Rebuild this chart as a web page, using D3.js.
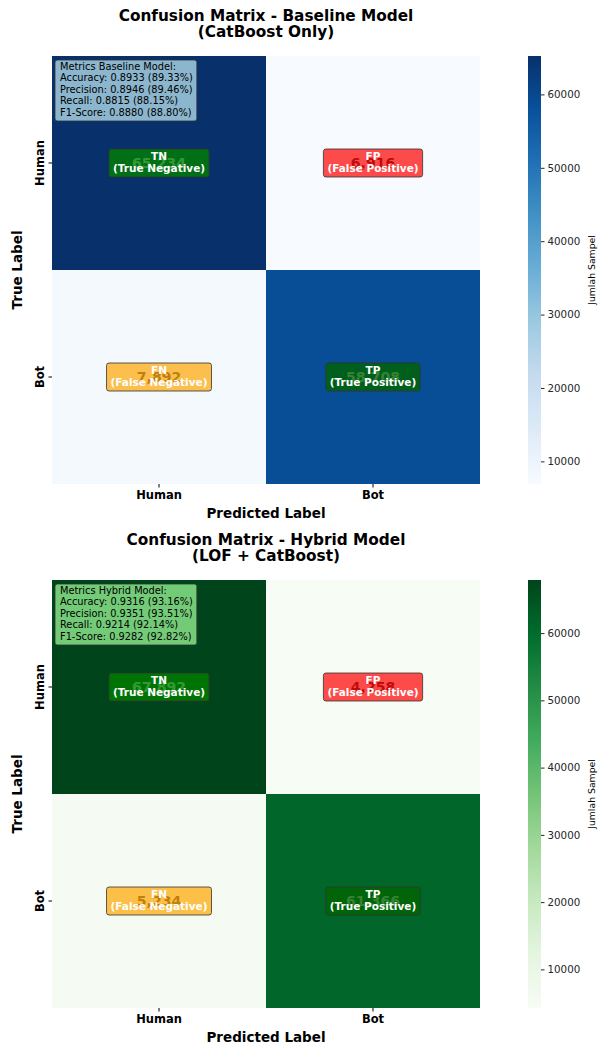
<!DOCTYPE html>
<html>
<head>
<meta charset="utf-8">
<script src="https://cdn.jsdelivr.net/npm/d3@7"></script>
<style>
  html, body { margin: 0; padding: 0; background: #ffffff; }
  svg { display: block; font-family: "DejaVu Sans", sans-serif; }
</style>
</head>
<body>
<svg id="chart" width="601" height="1047"></svg>
<script>
// ---------------- data ----------------
const categories = ["Human", "Bot"];
const baselineValues = [[65234, 6916], [7892, 58708]];
const hybridValues = [[67892, 4258], [5234, 61366]];
const cellCodes = [["TN", "FP"], ["FN", "TP"]];
const cellNames = [["(True Negative)", "(False Positive)"], ["(False Negative)", "(True Positive)"]];
const colorbarTicks = [10000, 20000, 30000, 40000, 50000, 60000];
const baselineMetrics = ["Metrics Baseline Model:", "Accuracy: 0.8933 (89.33%)", "Precision: 0.8946 (89.46%)", "Recall: 0.8815 (88.15%)", "F1-Score: 0.8880 (88.80%)"];
const hybridMetrics = ["Metrics Hybrid Model:", "Accuracy: 0.9316 (93.16%)", "Precision: 0.9351 (93.51%)", "Recall: 0.9214 (92.14%)", "F1-Score: 0.9282 (92.82%)"];
const baselineTitle = ["Confusion Matrix - Baseline Model", "(CatBoost Only)"];
const hybridTitle = ["Confusion Matrix - Hybrid Model", "(LOF + CatBoost)"];
const bluesColors = ["#f7fbff","#deebf7","#c6dbef","#9ecae1","#6baed6","#4292c6","#2171b5","#08519c","#08306b"];
const greensColors = ["#f7fcf5","#e5f5e0","#c7e9c0","#a1d99b","#74c476","#41ab5d","#238b45","#006d2c","#00441b"];

// ---------------- styles ----------------
const boxFill = [["green", "red"], ["orange", "darkgreen"]];
const boxAlpha = [[0.8, 0.7], [0.7, 0.8]];

const svg = d3.select("#chart");
const defs = svg.append("defs");

function drawPanel(opts) {
  const { top, values, title, metrics, colors, metricsFill, id } = opts;
  const left = 52, right = 480, y0 = top + 56, y1 = top + 484;
  const flat = values.flat();
  const vmin = d3.min(flat), vmax = d3.max(flat);
  const color = d3.scaleLinear()
    .domain(d3.range(colors.length).map(i => vmin + (vmax - vmin) * i / (colors.length - 1)))
    .range(colors).interpolate(d3.interpolateRgb);

  const x = d3.scaleBand().domain(categories).range([left, right]);
  const y = d3.scaleBand().domain(categories).range([y0, y1]);
  const g = svg.append("g");

  // title
  const cx = (left + right) / 2;
  title.forEach((t, i) => {
    g.append("text").attr("x", cx).attr("y", top + 21 + i * 16)
      .attr("text-anchor", "middle").attr("font-weight", "bold").attr("font-size", 15.3)
      .attr("fill", "#000").text(t);
  });

  // cells
  const cells = [];
  categories.forEach((r, i) => categories.forEach((c, j) => cells.push({ r, c, i, j, v: values[i][j] })));
  g.selectAll("rect.cell").data(cells).enter().append("rect")
    .attr("x", d => x(d.c)).attr("y", d => y(d.r))
    .attr("width", x.bandwidth()).attr("height", y.bandwidth())
    .attr("fill", d => color(d.v));

  // annotation numbers
  const mid = (vmin + vmax) / 2;
  g.selectAll("text.num").data(cells).enter().append("text")
    .attr("x", d => x(d.c) + x.bandwidth() / 2)
    .attr("y", d => y(d.r) + y.bandwidth() / 2 + 5)
    .attr("text-anchor", "middle").attr("font-weight", "bold").attr("font-size", 14)
    .attr("fill", d => d.v > mid ? "#ffffff" : "#262626")
    .text(d => d3.format(",")(d.v));

  // label boxes
  cells.forEach(d => {
    const bx = x(d.c) + x.bandwidth() / 2, by = y(d.r) + y.bandwidth() / 2;
    const bg = g.append("g");
    const rect = bg.append("rect");
    const t1 = bg.append("text").attr("x", bx).attr("y", by - 3)
      .attr("text-anchor", "middle").attr("font-weight", "bold").attr("font-size", 10.5)
      .attr("fill", "#fff").text(cellCodes[d.i][d.j]);
    const t2 = bg.append("text").attr("x", bx).attr("y", by + 9)
      .attr("text-anchor", "middle").attr("font-weight", "bold").attr("font-size", 10.5)
      .attr("fill", "#fff").text(cellNames[d.i][d.j]);
    const w = t2.node().getBBox().width + 8;
    rect.attr("x", bx - w / 2).attr("y", by - 14).attr("width", w).attr("height", 28)
      .attr("rx", 2.5).attr("fill", boxFill[d.i][d.j]).attr("fill-opacity", boxAlpha[d.i][d.j])
      .attr("stroke", "#333").attr("stroke-opacity", 0.8).attr("stroke-width", 1);
  });

  // metrics box
  const mg = g.append("g");
  const mrect = mg.append("rect");
  const mt = metrics.map((m, k) => mg.append("text").attr("x", 60).attr("y", y0 + 13.5 + k * 11.6)
    .attr("font-size", 9.8).attr("fill", "#000").text(m));
  let mw = d3.max(mt, t => t.node().getBBox().width);
  mrect.attr("x", 55).attr("y", y0 + 4).attr("width", mw + 9).attr("height", 61)
    .attr("rx", 2.5).attr("fill", metricsFill).attr("fill-opacity", 0.8)
    .attr("stroke", "#333").attr("stroke-opacity", 0.8);

  // axes
  const xAxis = d3.axisBottom(x).tickSize(3.5).tickPadding(3);
  const xg = g.append("g").attr("transform", `translate(0,${y1})`).call(xAxis);
  xg.select(".domain").remove();
  xg.selectAll("text").attr("font-size", 11.5).attr("font-weight", "bold").attr("fill", "#000")
    .attr("font-family", "DejaVu Sans, sans-serif");
  const yAxis = d3.axisLeft(y).tickSize(3.5).tickPadding(3);
  const yg = g.append("g").attr("transform", `translate(${left},0)`).call(yAxis);
  yg.select(".domain").remove();
  yg.selectAll("text").attr("font-size", 11.5).attr("font-weight", "bold").attr("fill", "#000")
    .attr("font-family", "DejaVu Sans, sans-serif")
    .attr("text-anchor", "middle")
    .each(function () {
      d3.select(this).attr("x", null).attr("dy", "0.35em").attr("y", 0)
        .attr("transform", `translate(-12,0) rotate(-90)`);
    });

  g.append("text").attr("x", cx).attr("y", y1 + 34).attr("text-anchor", "middle")
    .attr("font-weight", "bold").attr("font-size", 13.5).attr("fill", "#000").text("Predicted Label");
  g.append("text").attr("transform", `translate(22,${(y0 + y1) / 2}) rotate(-90)`)
    .attr("text-anchor", "middle").attr("font-weight", "bold").attr("font-size", 13.5)
    .attr("fill", "#000").text("True Label");

  // colorbar
  const cbx = 528, cbw = 13;
  const grad = defs.append("linearGradient").attr("id", id).attr("x1", 0).attr("y1", 1).attr("x2", 0).attr("y2", 0);
  colors.forEach((c, k) => grad.append("stop").attr("offset", k / (colors.length - 1)).attr("stop-color", c));
  g.append("rect").attr("x", cbx).attr("y", y0).attr("width", cbw).attr("height", y1 - y0)
    .attr("fill", `url(#${id})`);
  const cs = d3.scaleLinear().domain([vmin, vmax]).range([y1, y0]);
  const cAxis = d3.axisRight(cs).tickValues(colorbarTicks).tickFormat(d3.format("d")).tickSize(3.5).tickPadding(3);
  const cg = g.append("g").attr("transform", `translate(${cbx + cbw},0)`).call(cAxis);
  cg.select(".domain").remove();
  cg.selectAll("text").attr("font-size", 10.3).attr("fill", "#262626").attr("font-family", "DejaVu Sans, sans-serif");
  cg.selectAll("line").attr("stroke", "#262626");
  g.append("text").attr("transform", `translate(595,${(y0 + y1) / 2}) rotate(-90)`)
    .attr("text-anchor", "middle").attr("font-size", 9.3).attr("fill", "#000").text("Jumlah Sampel");
}

drawPanel({ top: 0, values: baselineValues, title: baselineTitle, metrics: baselineMetrics,
  colors: bluesColors, metricsFill: "lightblue", id: "gradBlues" });
drawPanel({ top: 524, values: hybridValues, title: hybridTitle, metrics: hybridMetrics,
  colors: greensColors, metricsFill: "lightgreen", id: "gradGreens" });
</script>
</body>
</html>
